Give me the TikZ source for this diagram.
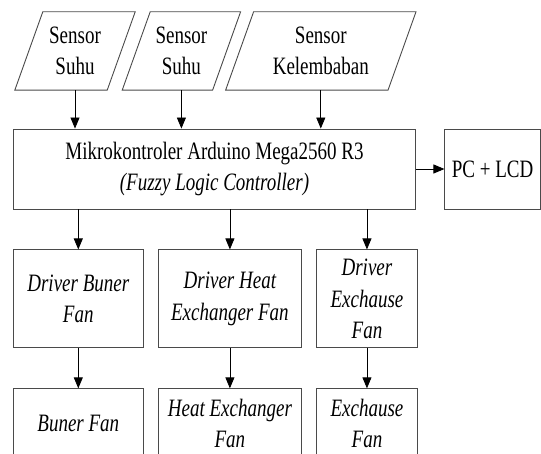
\documentclass[tikz,border=0pt]{standalone}
\usepackage{fontspec}
\setmainfont{Liberation Serif}[FakeStretch=0.76]
\usetikzlibrary{arrows.meta,calc,positioning}
\definecolor{Edge}{HTML}{4A4A4A}

\begin{document}
\begin{tikzpicture}[
      x=1pt,y=-1pt,
      block/.style={draw=Edge,line width=0.9pt,align=center,inner sep=0pt,
        font=\fontsize{25}{31.5}\selectfont},
      driver/.style={block,minimum height=98pt,font=\fontsize{25}{31.5}\selectfont\itshape},
      load/.style={block,minimum height=69pt,font=\fontsize{25}{31.5}\selectfont\itshape},
      sensor/.style={align=center,inner sep=0pt,minimum height=78pt,
        font=\fontsize{25}{31.5}\selectfont},
      arrow/.style={-{Triangle[length=11pt,width=9pt]},line width=0.8pt,color=black}
    ]
      \clip (0,0) rectangle (541,454);
      % inputs
      \node[sensor,minimum width=92pt] (suhuA) at (75,51) {Sensor\\Suhu};
      \node[sensor,minimum width=90pt,right=15pt of suhuA] (suhuB) {Sensor\\Suhu};
      \node[sensor,minimum width=162pt,right=13pt of suhuB] (lembab) {Sensor\\Kelembaban};
      \foreach \s in {suhuA,suhuB,lembab}
        \draw[draw=Edge,line width=0.9pt] ($(\s.north west)+(14,0)$) -- ($(\s.north east)+(14,0)$)
          -- ($(\s.south east)+(-14,0)$) -- ($(\s.south west)+(-14,0)$) -- cycle;
      % controller
      \node[block,minimum width=402.4pt,minimum height=80pt] (mcu) at (214.5,169)
        {Mikrokontroler Arduino Mega2560 R3\\\textit{(Fuzzy Logic Controller)}};
      \node[block,minimum width=95.5pt,minimum height=80pt,right=28.3pt of mcu] (pc) {PC + LCD};
      % drivers and fans
      \node[driver,minimum width=130pt,below right=40pt and 0pt of mcu.south west] (drvBuner) {Driver Buner\\Fan};
      \node[driver,minimum width=143.4pt,right=14pt of drvBuner] (drvHeat) {Driver Heat\\Exchanger Fan};
      \node[driver,minimum width=100.3pt,right=14.3pt of drvHeat] (drvExh) {Driver\\Exchause\\Fan};
      \node[load,minimum width=130pt,below=40pt of drvBuner] (fanBuner) {Buner Fan};
      \node[load,minimum width=143.4pt,below=40pt of drvHeat] (fanHeat) {Heat Exchanger\\Fan};
      \node[load,minimum width=100.3pt,below=40pt of drvExh] (fanExh) {Exchause\\Fan};
      \draw[arrow] (suhuA.south) -- (suhuA.south |- mcu.north);
      \draw[arrow] (suhuB.south) -- (suhuB.south |- mcu.north);
      \draw[arrow] (lembab.south) -- (lembab.south |- mcu.north);
      \draw[arrow] (mcu.east) -- (pc.west);
      \draw[arrow] (mcu.south -| drvBuner.north) -- (drvBuner.north);
      \draw[arrow] (mcu.south -| drvHeat.north) -- (drvHeat.north);
      \draw[arrow] (mcu.south -| drvExh.north) -- (drvExh.north);
      \draw[arrow] (drvBuner) -- (fanBuner);
      \draw[arrow] (drvHeat) -- (fanHeat);
      \draw[arrow] (drvExh) -- (fanExh);
    \end{tikzpicture}
\end{document}
